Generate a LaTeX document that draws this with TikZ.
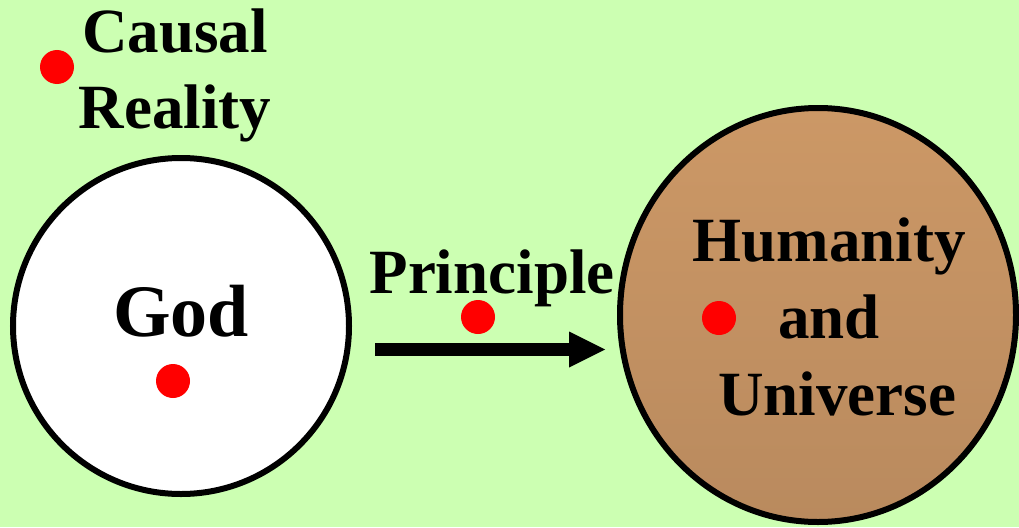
\documentclass[tikz,border=0pt]{standalone}
\usepackage{fontspec}
\setmainfont{Liberation Serif}
\usetikzlibrary{shapes.geometric,arrows.meta}
\definecolor{bgcol}{RGB}{204,255,178}
\definecolor{browntop}{RGB}{204,152,102}
\definecolor{brownbot}{RGB}{185,138,94}
\tikzset{
  dot/.style={circle,fill=red,minimum size=34pt,inner sep=0pt},
  lbl/.style={font=\bfseries\fontsize{63}{76}\selectfont,inner sep=0pt,align=center},
  ring/.style={line width=6pt,draw=black,inner sep=0pt}
}
\begin{document}
\begin{tikzpicture}[x=1pt,y=-1pt]
\fill[bgcol] (0,0) rectangle (1019,527);
\useasboundingbox (0,0) rectangle (1019,527);
% circles
\node[ring,circle,fill=white,minimum size=336pt] (god) at (181,326) {};
\node[ring,ellipse,minimum width=396pt,minimum height=414pt,top color=browntop,bottom color=brownbot] (hu) at (818,315) {};
% texts
\node[lbl,anchor=base] (causal) at (175,128) {Causal\\Reality};
\node[font=\bfseries\fontsize{74}{88}\selectfont,inner sep=0pt,anchor=base] (godtxt) at (181,336) {God};
\node[lbl,anchor=base] (principle) at (492,293) {Principle};
\node[lbl,anchor=base,font=\bfseries\fontsize{63}{77}\selectfont] (hutxt) at (829,415) {Humanity\\and\\\hspace*{16pt}Universe};
% dots
\node[dot] (d1) at (57,67) {};
\node[dot] (d2) at (173,381) {};
\node[dot] (d3) at (478,317) {};
\node[dot] (d4) at (719,318) {};
% arrow
\coordinate (as) at (375,349.5);
\coordinate (ae) at (605,349.5);
\draw[line width=13pt,-{Triangle[length=36pt 0 0,width=36pt 0 0,line width=0pt 0]}] (as) -- (ae);
\end{tikzpicture}
\end{document}
